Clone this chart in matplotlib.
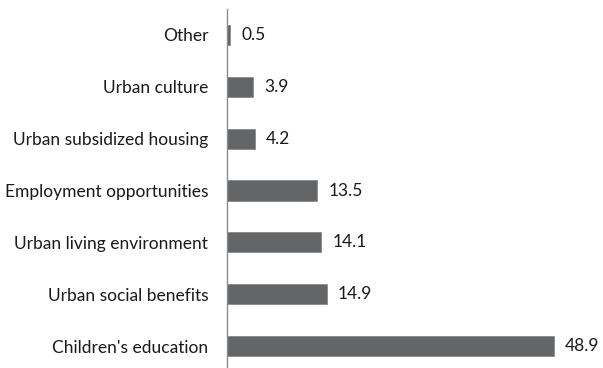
import matplotlib
matplotlib.use('Agg')
import matplotlib.pyplot as plt

# Datos (de abajo hacia arriba)
categories = ["Children's education", 'Urban social benefits', 'Urban living environment',
              'Employment opportunities', 'Urban subsidized housing', 'Urban culture', 'Other']
values = [48.9, 14.9, 14.1, 13.5, 4.2, 3.9, 0.5]

plt.rcParams['font.family'] = ['Lato', 'DejaVu Sans']

fig = plt.figure(figsize=(6.03, 3.68), dpi=100)
ax = fig.add_axes([227 / 603, -4 / 368, 1 - 227 / 603, 363 / 368])

ax.barh(range(len(categories)), values, height=0.39, color='#646567',
        edgecolor='#8a8a8a', linewidth=0.6)

for i, v in enumerate(values):
    ax.annotate(f'{v}', xy=(v, i), xytext=(8, 0), textcoords='offset points',
                ha='left', va='center', fontsize=12.5, color='#1a1a1a', clip_on=False)

ax.set_xlim(0, 56.3)
ax.set_ylim(-0.5, 6.5)
ax.set_yticks(range(len(categories)))
ax.set_yticklabels(categories, fontsize=12.5, color='#1a1a1a')
ax.tick_params(axis='y', length=0, pad=13.5)
ax.set_xticks([])

for side in ['top', 'right', 'bottom']:
    ax.spines[side].set_visible(False)
ax.spines['left'].set_color('#8c8c8c')
ax.spines['left'].set_linewidth(1)

fig.savefig('out.png', dpi=100)
